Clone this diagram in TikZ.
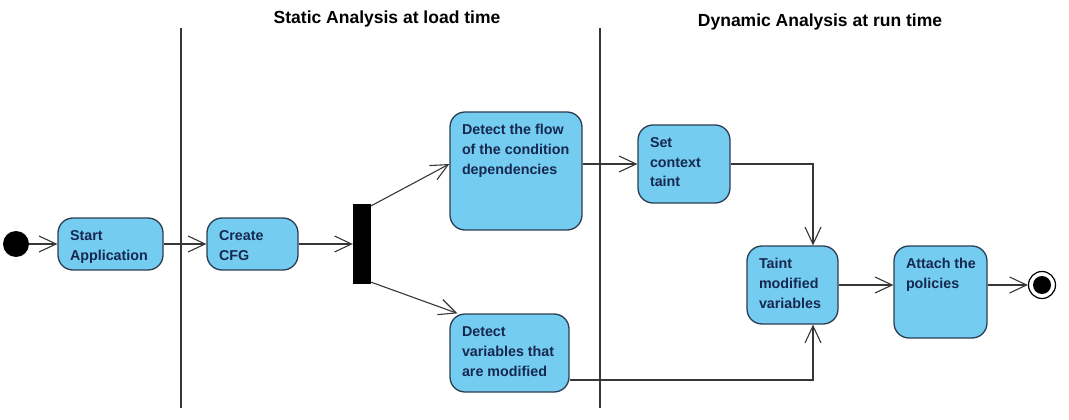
\documentclass[tikz,border=0pt]{standalone}
\usepackage{fontspec}
\setmainfont{Liberation Sans}
\usetikzlibrary{arrows.meta,calc}
\definecolor{actfill}{RGB}{116,204,241}
\definecolor{actdraw}{RGB}{45,62,82}
\definecolor{acttxt}{RGB}{22,40,78}
\definecolor{linecol}{RGB}{55,55,55}
\newcommand{\acttext}[3]{\parbox[c][#2][t]{#1}{\begin{tabular}[t]{@{}l@{}}#3\end{tabular}}}
\begin{document}
\begin{tikzpicture}[x=1pt,y=-1pt,
  act/.style={draw=actdraw, fill=actfill, line width=1.3pt, rounded corners=15pt,
    inner xsep=12pt, inner ysep=8pt, text=acttxt, font=\fontsize{14.3}{20}\selectfont\bfseries},
  conn/.style={draw=linecol, line width=1.1pt,
    -{Straight Barb[length=17pt,width=16pt,line width=1.1pt]}},
  swim/.style={draw=linecol, line width=1.1pt},
  head/.style={anchor=base, inner sep=0pt, font=\fontsize{17.5}{20}\selectfont\bfseries},
  fork/.style={fill=black, minimum width=18pt, minimum height=80pt, inner sep=0pt},
  initial/.style={circle, fill=black, minimum size=26pt, inner sep=0pt},
  final/.style={circle, draw=black, fill=white, line width=1.2pt, minimum size=27pt, inner sep=0pt,
    path picture={\fill[black] (path picture bounding box.center) circle (9pt);}}]
\useasboundingbox (0,0) rectangle (1069,420);

% swimlane separators
\coordinate (l1t) at (181,28);
\coordinate (l1b) at (181,408);
\coordinate (l2t) at (600,28);
\coordinate (l2b) at (600,408);
\draw[swim] (l1t) -- (l1b);
\draw[swim] (l2t) -- (l2b);

% headings
\node[head] (hs) at (387,24) {Static Analysis at load time};
\node[head] (hd) at (820,27) {Dynamic Analysis at run time};

% nodes
\node[initial] (init) at (16,244) {};
\node[act] (start) at (110.5,244) {\acttext{81pt}{36pt}{Start\\Application}};
\node[act] (cfg) at (252.5,244) {\acttext{67pt}{36pt}{Create\\CFG}};
\node[fork] (bar) at (362,244) {};
\node[act] (flow) at (516,171) {\acttext{108pt}{102pt}{Detect the flow\\of the condition\\dependencies}};
\node[act] (vars) at (509.5,353) {\acttext{95pt}{62pt}{Detect\\variables that\\are modified}};
\node[act] (ctx) at (684,164) {\acttext{68pt}{62pt}{Set\\context\\taint}};
\node[act] (taint) at (792.5,285) {\acttext{67pt}{62pt}{Taint\\modified\\variables}};
\node[act] (attach) at (940.5,292) {\acttext{69pt}{76pt}{Attach the\\policies}};
\node[final] (end) at (1042,285) {};

% connectors
\draw[conn] (init) -- (start);
\draw[conn] (start) -- (cfg);
\draw[conn] (cfg) -- (bar);
\draw[conn] ([yshift=-2pt]bar.north east) -- (flow.west |- ctx.west);
\draw[conn] ([yshift=2pt]bar.south east) -- ([xshift=8pt]vars.north west);
\draw[conn] (flow.east |- ctx.west) -- (ctx.west);
\draw[conn] (ctx.east) -| ([xshift=20.5pt]taint.north);
\draw[conn] ([yshift=-27pt]vars.east) -| ([xshift=20.5pt]taint.south);
\draw[conn] (taint.east) -- (attach.west |- taint.east);
\draw[conn] (attach.east |- taint.east) -- (end.west);
\end{tikzpicture}
\end{document}
